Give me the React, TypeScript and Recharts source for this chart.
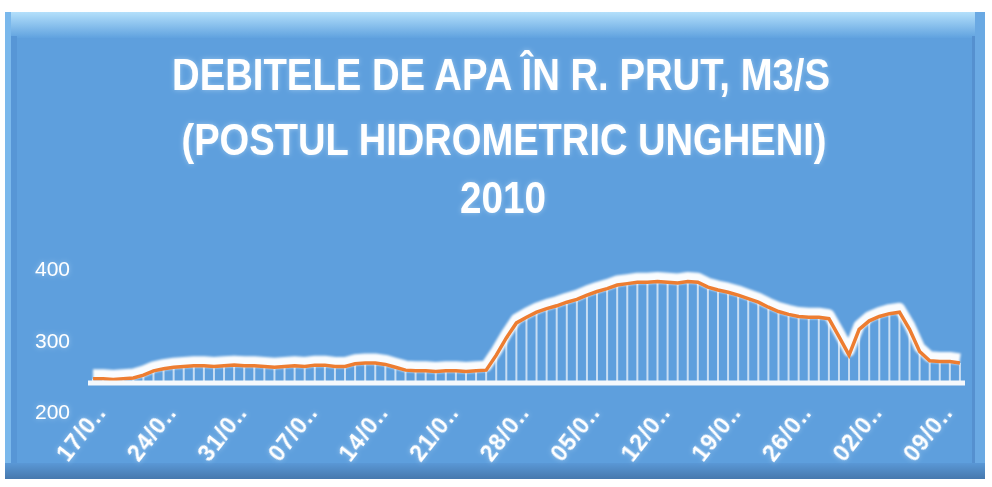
import React from "react";
import { Bar, ComposedChart, Line, XAxis, YAxis } from "recharts";

// Prut river discharge at Ungheni, daily values 16/05/2010 - 10/08/2010 (m3/s)
const flow = [
  206, 206, 205, 206, 207, 211, 217, 220,
  222, 223, 224, 224, 223, 224, 225, 224, 224, 223, 222, 223, 224, 223,
  225, 225, 223, 223, 227, 228, 228, 226,
  222, 218,
  217, 217, 216, 217, 217, 216, 217, 218,
  239, 263, 284, 292, 299, 304, 308, 313, 317, 323, 328, 332, 337, 339, 341, 341,
  342, 341, 340, 342, 341, 334, 330, 327, 323, 318, 313, 306, 300, 296, 293, 292,
  292, 290, 265, 239, 275, 287, 293, 297, 299, 275, 244, 231, 230, 230, 228,
];

const tickDates = [
  "17/05/2010", "24/05/2010", "31/05/2010", "07/06/2010", "14/06/2010", "21/06/2010", "28/06/2010",
  "05/07/2010", "12/07/2010", "19/07/2010", "26/07/2010", "02/08/2010", "09/08/2010",
];
const yTicks = [200, 300, 400];

const titleLines = ["DEBITELE  DE APA ÎN R. PRUT, M3/S", "(POSTUL HIDROMETRIC UNGHENI)", "2010"];

const pad = (n: number) => String(n).padStart(2, "0");
const dates = flow.map((_, i) => {
  const d = new Date(2010, 4, 16 + i);
  return `${pad(d.getDate())}/${pad(d.getMonth() + 1)}/${d.getFullYear()}`;
});

const data = dates.map((date, i) => ({ date, flow: flow[i] }));

const FONT = "'Liberation Sans', Arial, sans-serif";

const XTick = (props: any) => {
  const { x, y, payload } = props;
  const label = String(payload.value).slice(0, 4) + "..";
  const ty = y + 22;
  return (
    <text
      x={x + 4}
      y={ty}
      transform={`rotate(-52 ${x + 4} ${ty})`}
      textAnchor="end"
      fill="#ffffff"
      fontFamily={FONT}
      fontWeight="bold"
      fontSize={23}
      letterSpacing={1}
      filter="url(#textGlow)"
    >
      {label}
    </text>
  );
};

const YTick = (props: any) => {
  const { y, payload } = props;
  return (
    <text
      x={70}
      y={y + 36}
      textAnchor="end"
      fill="#ffffff"
      fontFamily={FONT}
      fontSize={21}
      filter="url(#textGlow)"
    >
      {payload.value}
    </text>
  );
};

function Backdrop() {
  return (
    <svg width={992} height={487} style={{ position: "absolute", left: 0, top: 0 }}>
      <defs>
        <linearGradient id="topBand" x1="0" y1="0" x2="0" y2="1">
          <stop offset="0" stopColor="#b4e0fb" />
          <stop offset="1" stopColor="#60a2df" />
        </linearGradient>
        <linearGradient id="bottomBand" x1="0" y1="0" x2="0" y2="1">
          <stop offset="0" stopColor="#5a98d6" />
          <stop offset="1" stopColor="#4678ad" />
        </linearGradient>
        <filter id="lineGlow" x="-5%" y="-60%" width="110%" height="220%">
          <feOffset dy="-4" />
          <feGaussianBlur stdDeviation="1.2" />
        </filter>
        <filter id="textGlow" x="-30%" y="-30%" width="160%" height="160%">
          <feGaussianBlur in="SourceAlpha" stdDeviation="2.5" result="b" />
          <feFlood floodColor="#dff2ff" floodOpacity="0.45" />
          <feComposite in2="b" operator="in" result="g" />
          <feMerge>
            <feMergeNode in="g" />
            <feMergeNode in="SourceGraphic" />
          </feMerge>
        </filter>
      </defs>
      <rect x={0} y={0} width={992} height={487} fill="#ffffff" />
      <rect x={5} y={12} width={980} height={467} fill="#5e9fdd" />
      <rect x={5} y={12} width={980} height={26} fill="url(#topBand)" />
      <rect x={5} y={12} width={6} height={467} fill="#7ab8ec" />
      <rect x={11} y={36} width={6} height={430} fill="#5796d6" />
      <rect x={975} y={12} width={10} height={467} fill="#6aa9e3" />
      <rect x={972} y={36} width={3} height={430} fill="#5590cf" />
      <rect x={5} y={463} width={980} height={16} fill="url(#bottomBand)" />
      <g fill="#ffffff" fontFamily={FONT} fontWeight="bold" textAnchor="middle" filter="url(#textGlow)">
        <text x={501} y={90} fontSize={44} textLength={658} lengthAdjust="spacingAndGlyphs">
          {titleLines[0]}
        </text>
        <text x={504} y={155} fontSize={44} textLength={645} lengthAdjust="spacingAndGlyphs">
          {titleLines[1]}
        </text>
        <text x={503} y={213} fontSize={44} textLength={86} lengthAdjust="spacingAndGlyphs">
          {titleLines[2]}
        </text>
      </g>
    </svg>
  );
}

export default function App() {
  return (
    <div style={{ position: "relative", width: 992, height: 487, overflow: "hidden" }}>
      <style>{`body{margin:0}`}</style>
      <Backdrop />
      <div style={{ position: "absolute", left: 0, top: 0 }}>
        <ComposedChart
          width={992}
          height={487}
          data={data}
          margin={{ top: 240, right: 27, bottom: 24, left: 0 }}
        >
          <XAxis
            dataKey="date"
            ticks={tickDates}
            tick={<XTick />}
            tickLine={false}
            axisLine={{ stroke: "#f4f8fc", strokeWidth: 5 }}
            height={80}
            interval={0}
          />
          <YAxis
            domain={[200, 400]}
            ticks={yTicks}
            allowDataOverflow
            width={88}
            tick={<YTick />}
            axisLine={false}
            tickLine={false}
          />
          <Bar dataKey="flow" barSize={2} fill="#ffffff" fillOpacity={0.65} isAnimationActive={false} />
          <Line
            type="linear"
            dataKey="flow"
            stroke="#ffffff"
            strokeWidth={11}
            strokeOpacity={0.97}
            strokeLinejoin="round"
            filter="url(#lineGlow)"
            dot={false}
            activeDot={false}
            isAnimationActive={false}
          />
          <Line
            type="linear"
            dataKey="flow"
            stroke="#ed7d31"
            strokeWidth={3.5}
            dot={false}
            activeDot={false}
            isAnimationActive={false}
          />
        </ComposedChart>
      </div>
    </div>
  );
}
